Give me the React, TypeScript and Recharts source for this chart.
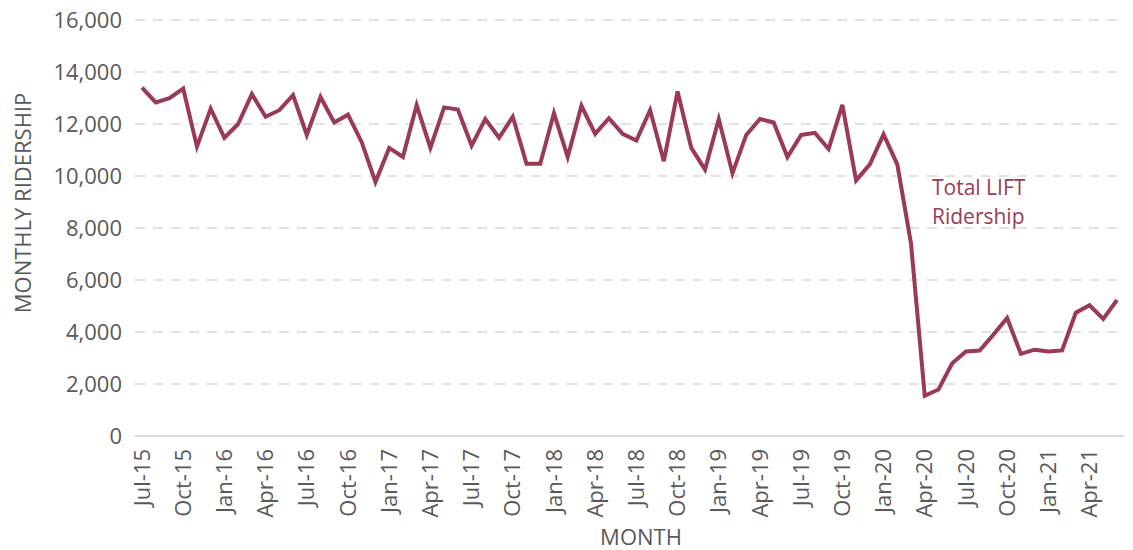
import React from 'react';
import { LineChart, Line, XAxis, YAxis, CartesianGrid, Customized } from 'recharts';

const months = [
    'Jul-15', 'Aug-15', 'Sep-15', 'Oct-15', 'Nov-15', 'Dec-15',
    'Jan-16', 'Feb-16', 'Mar-16', 'Apr-16', 'May-16', 'Jun-16', 'Jul-16', 'Aug-16', 'Sep-16', 'Oct-16', 'Nov-16', 'Dec-16',
    'Jan-17', 'Feb-17', 'Mar-17', 'Apr-17', 'May-17', 'Jun-17', 'Jul-17', 'Aug-17', 'Sep-17', 'Oct-17', 'Nov-17', 'Dec-17',
    'Jan-18', 'Feb-18', 'Mar-18', 'Apr-18', 'May-18', 'Jun-18', 'Jul-18', 'Aug-18', 'Sep-18', 'Oct-18', 'Nov-18', 'Dec-18',
    'Jan-19', 'Feb-19', 'Mar-19', 'Apr-19', 'May-19', 'Jun-19', 'Jul-19', 'Aug-19', 'Sep-19', 'Oct-19', 'Nov-19', 'Dec-19',
    'Jan-20', 'Feb-20', 'Mar-20', 'Apr-20', 'May-20', 'Jun-20', 'Jul-20', 'Aug-20', 'Sep-20', 'Oct-20', 'Nov-20', 'Dec-20',
    'Jan-21', 'Feb-21', 'Mar-21', 'Apr-21', 'May-21', 'Jun-21',
];

const ridership = [
    13400, 12830, 12990, 13360, 11130, 12590,
    11470, 12000, 13150, 12280, 12530, 13110, 11580, 13040, 12060, 12360, 11300, 9770,
    11080, 10730, 12730, 11080, 12640, 12560, 11170, 12190, 11470, 12280, 10470, 10470,
    12420, 10730, 12700, 11620, 12220, 11620, 11360, 12530, 10570, 13250, 11080, 10250,
    12190, 10110, 11580, 12190, 12060, 10730, 11580, 11660, 11040, 12740, 9830, 10450,
    11600, 10450, 7400, 1550, 1790, 2800, 3250, 3290, 3900, 4540, 3160, 3320,
    3250, 3290, 4740, 5030, 4500, 5230,
];

const yTicks = [0, 2000, 4000, 6000, 8000, 10000, 12000, 14000, 16000];

const LINE_COLOR = '#9a3a55';
const TEXT_COLOR = '#595959';
const FONT = '"Open Sans", sans-serif';

const data = months.map((m, i) => ({ month: m, value: ridership[i] }));

const MonthTick = (props: any) => {
    const { x, y, payload } = props;
    return (
        <text
            x={x}
            y={y}
            dy="0.35em"
            transform={`rotate(-90, ${x}, ${y})`}
            textAnchor="end"
            fill={TEXT_COLOR}
            fontSize={22}
            fontFamily={FONT}
        >
            {payload.value}
        </text>
    );
};

const Annotations = () => (
    <g fontFamily={FONT}>
        <text x={23} y={203} transform="rotate(-90, 23, 203)" dy="0.35em" textAnchor="middle" fill={TEXT_COLOR} fontSize={22}>
            MONTHLY RIDERSHIP
        </text>
        <text x={641} y={545} textAnchor="middle" fill={TEXT_COLOR} fontSize={22}>
            MONTH
        </text>
        {/* series label next to the drop */}
        <text x={932} y={195} fill={LINE_COLOR} fontSize={21}>Total LIFT</text>
        <text x={932} y={224} fill={LINE_COLOR} fontSize={21}>Ridership</text>
    </g>
);

const App: React.FC = () => {
    return (
        <div style={{ width: 1133, height: 550 }}>
            <style>{'body { margin: 0; }'}</style>
            <LineChart width={1133} height={550} data={data} margin={{ top: 20, right: 9, bottom: 0, left: 0 }}>
                <CartesianGrid vertical={false} stroke="#d9d9d9" strokeWidth={1.5} strokeDasharray="10 8" />
                <XAxis
                    dataKey="month"
                    interval={2}
                    height={114}
                    padding={{ left: 7, right: 7 }}
                    tickLine={false}
                    axisLine={{ stroke: '#d9d9d9', strokeWidth: 2 }}
                    tick={<MonthTick />}
                    tickMargin={7}
                />
                <YAxis
                    width={135}
                    domain={[0, 16000]}
                    ticks={yTicks}
                    tickLine={false}
                    axisLine={false}
                    tickMargin={7}
                    tickFormatter={(v: number) => v.toLocaleString('en-US')}
                    tick={{ fill: TEXT_COLOR, fontSize: 22, fontFamily: FONT }}
                />
                <Line
                    type="linear"
                    dataKey="value"
                    stroke={LINE_COLOR}
                    strokeWidth={4}
                    dot={false}
                    isAnimationActive={false}
                />
                <Customized component={Annotations} />
            </LineChart>
        </div>
    );
};

export default App;
